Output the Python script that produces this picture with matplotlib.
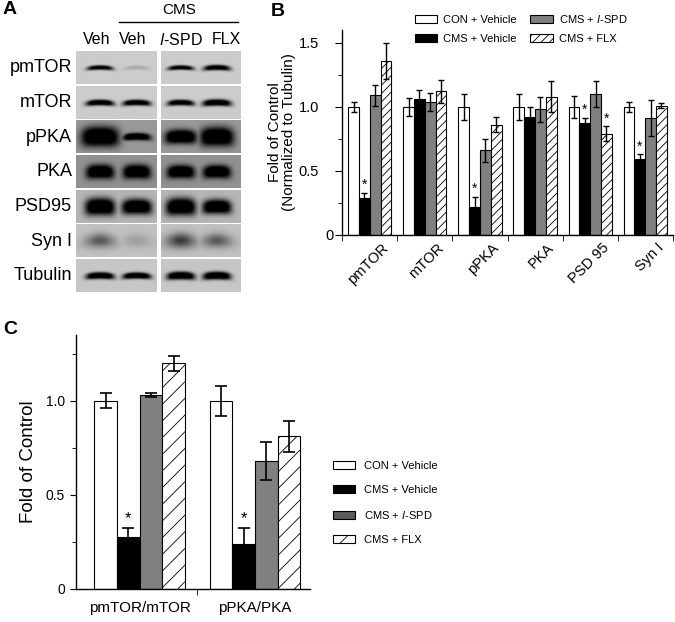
import numpy as np
import matplotlib as mpl
mpl.use("Agg")
import matplotlib.pyplot as plt
from matplotlib.patches import Patch
from matplotlib.transforms import ScaledTranslation

plt.rcParams["font.family"] = ["Liberation Sans", "DejaVu Sans"]
plt.rcParams["hatch.linewidth"] = 0.6
plt.rcParams["axes.linewidth"] = 1.0

# ---------------------------------------------------------------------------
# Data
# ---------------------------------------------------------------------------
groups = [r"CON + Vehicle", r"CMS + Vehicle", r"CMS + $\mathit{l}$-SPD", r"CMS + FLX"]

# panel B: fold of control (normalized to tubulin)
b_cats = ["pmTOR", "mTOR", "pPKA", "PKA", "PSD 95", "Syn I"]
b_con = [1.00, 1.00, 1.00, 1.00, 1.00, 1.00]
b_cms = [0.29, 1.06, 0.22, 0.92, 0.87, 0.59]
b_spd = [1.09, 1.04, 0.66, 0.98, 1.10, 0.91]
b_flx = [1.36, 1.12, 0.86, 1.08, 0.79, 1.01]
b_con_err = [0.04, 0.07, 0.10, 0.10, 0.085, 0.04]
b_cms_err = [0.04, 0.07, 0.08, 0.08, 0.045, 0.04]
b_spd_err = [0.08, 0.07, 0.09, 0.10, 0.105, 0.14]
b_flx_err = [0.14, 0.09, 0.06, 0.12, 0.057, 0.02]
b_stars = [(0, 1), (2, 1), (4, 1), (4, 3), (5, 1)]  # (category, group)

# panel C: ratio phospho / total
c_cats = ["pmTOR/mTOR", "pPKA/PKA"]
c_con = [1.00, 1.00]
c_cms = [0.275, 0.24]
c_spd = [1.03, 0.68]
c_flx = [1.20, 0.81]
c_con_err = [0.04, 0.08]
c_cms_err = [0.05, 0.085]
c_spd_err = [0.01, 0.10]
c_flx_err = [0.04, 0.08]
c_stars = [(0, 1), (1, 1)]

# panel A: western blot, band darkness per row and lane (0 = none, 1 = black)
blot_rows = ["pmTOR", "mTOR", "pPKA", "PKA", "PSD95", "Syn I", "Tubulin"]
blot_lanes = ["Veh", "Veh", r"$\mathit{l}$-SPD", "FLX"]
blot_bg = [0.80, 0.80, 0.60, 0.57, 0.71, 0.76, 0.78]
blot_dark = [
    [0.85, 0.12, 0.85, 0.88],
    [0.95, 0.92, 0.90, 0.95],
    [1.00, 1.00, 1.00, 1.00],
    [1.00, 1.00, 1.00, 1.00],
    [1.00, 1.00, 1.00, 1.00],
    [0.55, 0.18, 0.70, 0.55],
    [1.00, 1.00, 1.00, 1.00],
]
blot_halfh = [
    [2.2, 2.0, 2.2, 2.6],
    [2.8, 2.8, 2.8, 3.2],
    [10.0, 3.5, 7.0, 9.5],
    [7.0, 7.0, 6.5, 6.5],
    [8.5, 7.5, 8.5, 7.0],
    [7.0, 7.0, 7.5, 7.0],
    [3.2, 3.0, 3.8, 3.8],
]
blot_halfw = [
    [13, 13, 13, 13.5],
    [14, 14, 13.5, 14.5],
    [19, 14, 16, 17],
    [14, 14, 14, 14],
    [15, 15, 15, 14.5],
    [15, 15, 15, 15],
    [14, 14, 14, 14],
]

colors = ["white", "black", "#808080", "white"]

fig = plt.figure(figsize=(6.75, 6.22), dpi=100)

# background axes in pixel coordinates for panel A and letters
ax0 = fig.add_axes([0, 0, 1, 1])
ax0.axis("off")

# ---------------------------------------------------------------------------
# Panel A
# ---------------------------------------------------------------------------
blocks = [(76.0, 156.7), (160.7, 240.7)]
lane_x = [100.0, 136.7, 180.5, 216.7]
row_top0, row_pitch, row_h = 51.7, 34.6, 32.6


def blot_tile(bg, centers, dark, hw, hh, w, h, soft):
    xs = np.linspace(0, w, int(w * 4))
    ys = np.linspace(0, h, int(h * 4))
    X, Y = np.meshgrid(xs, ys)
    d = np.zeros_like(X)
    px, py = (2, 2) if soft else (4, 2.5)
    for cx, dk, a, b in zip(centers, dark, hw, hh):
        dx = (X - cx) / a
        dy = (Y - h / 2 - 1.2 * dx ** 2) / b
        prof = np.exp(-np.abs(dx) ** px) * np.exp(-np.abs(dy) ** py)
        d = np.maximum(d, np.clip(dk * prof * (1.0 if soft else 1.4), 0, 1))
    return bg * (1 - d)


for r, name in enumerate(blot_rows):
    y0 = row_top0 + r * row_pitch
    y1 = y0 + row_h
    for bi, (x0, x1) in enumerate(blocks):
        idx = [0, 1] if bi == 0 else [2, 3]
        img = blot_tile(blot_bg[r], [lane_x[i] - x0 for i in idx],
                        [blot_dark[r][i] for i in idx],
                        [blot_halfw[r][i] for i in idx],
                        [blot_halfh[r][i] for i in idx],
                        x1 - x0, y1 - y0, name == "Syn I")
        ax0.imshow(img, cmap="gray", vmin=0, vmax=1, extent=[x0, x1, y1, y0],
                   aspect="auto", interpolation="bilinear")
    ax0.text(72, (y0 + y1) / 2, name, ha="right", va="center", fontsize=13)

for lbl, x in zip(blot_lanes, [96.7, 133.0, 180.5, 226.7]):
    ax0.text(x, 40, lbl, ha="center", va="center", fontsize=11.5)
ax0.text(179, 10, "CMS", ha="center", va="center", fontsize=11)
ax0.plot([119, 238], [21.7, 21.7], color="black", lw=1)
ax0.set_xlim(0, 675)
ax0.set_ylim(622, 0)

ax0.text(3, 10, "A", fontsize=14, fontweight="bold", va="center")
ax0.text(271, 11, "B", fontsize=14, fontweight="bold", va="center")
ax0.text(3, 330, "C", fontsize=14, fontweight="bold", va="center")


# ---------------------------------------------------------------------------
# Bar panel helper
# ---------------------------------------------------------------------------
def grouped_bars(ax, series, errs, capsize, lw_err, hatch):
    hatches = [None, None, None, hatch]
    x = np.arange(len(series[0]))
    w = 0.196
    for k, (vals, err) in enumerate(zip(series, errs)):
        ax.bar(x + (k - 1.5) * w, vals, w, color=colors[k], edgecolor="black",
               linewidth=0.8, hatch=hatches[k], zorder=2)
        ax.errorbar(x + (k - 1.5) * w, vals, yerr=err, fmt="none", ecolor="black",
                    elinewidth=lw_err, capsize=capsize, capthick=lw_err, zorder=3)
    return x, w


# ---------------------------------------------------------------------------
# Panel B
# ---------------------------------------------------------------------------
ax_b = fig.add_axes([342.2 / 675, 1 - 235 / 622, 330.6 / 675, (235 - 29.9) / 622])
b_series = [b_con, b_cms, b_spd, b_flx]
b_errs = [b_con_err, b_cms_err, b_spd_err, b_flx_err]
xb, wb = grouped_bars(ax_b, b_series, b_errs, 2.4, 1.0, "////")
for ci, gi in b_stars:
    top = b_series[gi][ci] + b_errs[gi][ci]
    ax_b.text(xb[ci] + (gi - 1.5) * wb, top + 0.005, "*", ha="center", va="bottom", fontsize=10)

ax_b.set_xlim(-0.5, 5.5)
ax_b.set_ylim(0, 1.6)
ax_b.set_yticks([0, 0.5, 1.0, 1.5])
ax_b.set_yticklabels(["0", "0.5", "1.0", "1.5"])
ax_b.set_yticks([0.25, 0.75, 1.25], minor=True)
ax_b.set_xticks(xb)
ax_b.set_xticklabels(b_cats, rotation=45, ha="right", rotation_mode="anchor", fontsize=10.5)
ax_b.set_xticks(np.arange(-0.5, 6, 1), minor=True)
ax_b.tick_params(axis="x", which="major", length=0, pad=4)
ax_b.tick_params(axis="x", which="minor", length=4, direction="out")
ax_b.tick_params(axis="y", which="major", length=5, labelsize=10.5, pad=1)
ax_b.tick_params(axis="y", which="minor", length=3)
for lab in ax_b.get_yticklabels()[1:]:
    lab.set_transform(lab.get_transform() + ScaledTranslation(-15 / 100, 0, fig.dpi_scale_trans))
for lab in ax_b.get_xticklabels():
    lab.set_transform(lab.get_transform() + ScaledTranslation(12 / 100, 0, fig.dpi_scale_trans))
for s in ["top", "right"]:
    ax_b.spines[s].set_visible(False)
ax_b.set_ylabel("Fold of Control\n(Normalized to Tubulin)", fontsize=11, linespacing=0.95)
ax_b.yaxis.set_label_coords(-0.14, 0.5)

b_handles = [Patch(facecolor=colors[k], edgecolor="black", hatch=[None, None, None, "////"][k],
                   linewidth=0.8) for k in range(4)]
ax_b.legend(b_handles, groups, loc="upper left", bbox_to_anchor=(415, 13),
            bbox_transform=ax0.transData, ncol=2, frameon=False, fontsize=8,
            handlelength=2.0, handleheight=0.72, handletextpad=0.55, labelspacing=0.78,
            columnspacing=1.2, borderpad=0, borderaxespad=0)

# ---------------------------------------------------------------------------
# Panel C
# ---------------------------------------------------------------------------
ax_c = fig.add_axes([76 / 675, 1 - 588.7 / 622, 234 / 675, (588.7 - 335) / 622])
c_series = [c_con, c_cms, c_spd, c_flx]
c_errs = [c_con_err, c_cms_err, c_spd_err, c_flx_err]
xc, wc = grouped_bars(ax_c, c_series, c_errs, 4, 1.2, "//")
for ci, gi in c_stars:
    top = c_series[gi][ci] + c_errs[gi][ci]
    ax_c.text(xc[ci] + (gi - 1.5) * wc, top + 0.01, "*", ha="center", va="bottom", fontsize=12)

ax_c.set_xlim(-0.552, 1.477)
ax_c.set_ylim(0, 1.35)
ax_c.set_yticks([0, 0.5, 1.0])
ax_c.set_yticklabels(["0", "0.5", "1.0"])
ax_c.set_yticks([0.25, 0.75, 1.25], minor=True)
ax_c.set_xticks(xc)
ax_c.set_xticklabels(c_cats, fontsize=11)
ax_c.set_xticks([0.5], minor=True)
ax_c.tick_params(axis="x", which="major", length=0, pad=9)
ax_c.tick_params(axis="x", which="minor", length=4, direction="out")
ax_c.tick_params(axis="y", which="major", length=4, labelsize=10, pad=4)
ax_c.tick_params(axis="y", which="minor", length=3)
for s in ["top", "right"]:
    ax_c.spines[s].set_visible(False)
ax_c.set_ylabel("Fold of Control", fontsize=13.5)
ax_c.yaxis.set_label_coords(-0.165, 0.5)

c_colors = ["white", "black", "#5a5a5a", "white"]
c_handles = [Patch(facecolor=c_colors[k], edgecolor="black", hatch=[None, None, None, "//"][k],
                   linewidth=0.8) for k in range(4)]
ax_c.legend(c_handles, groups, loc="center left", bbox_to_anchor=(332.7, 503),
            bbox_transform=ax0.transData, frameon=False, fontsize=8,
            handlelength=2.0, handleheight=0.72, handletextpad=0.8, labelspacing=1.25,
            borderpad=0, borderaxespad=0)

fig.savefig("out.png", dpi=100)
plt.close(fig)
